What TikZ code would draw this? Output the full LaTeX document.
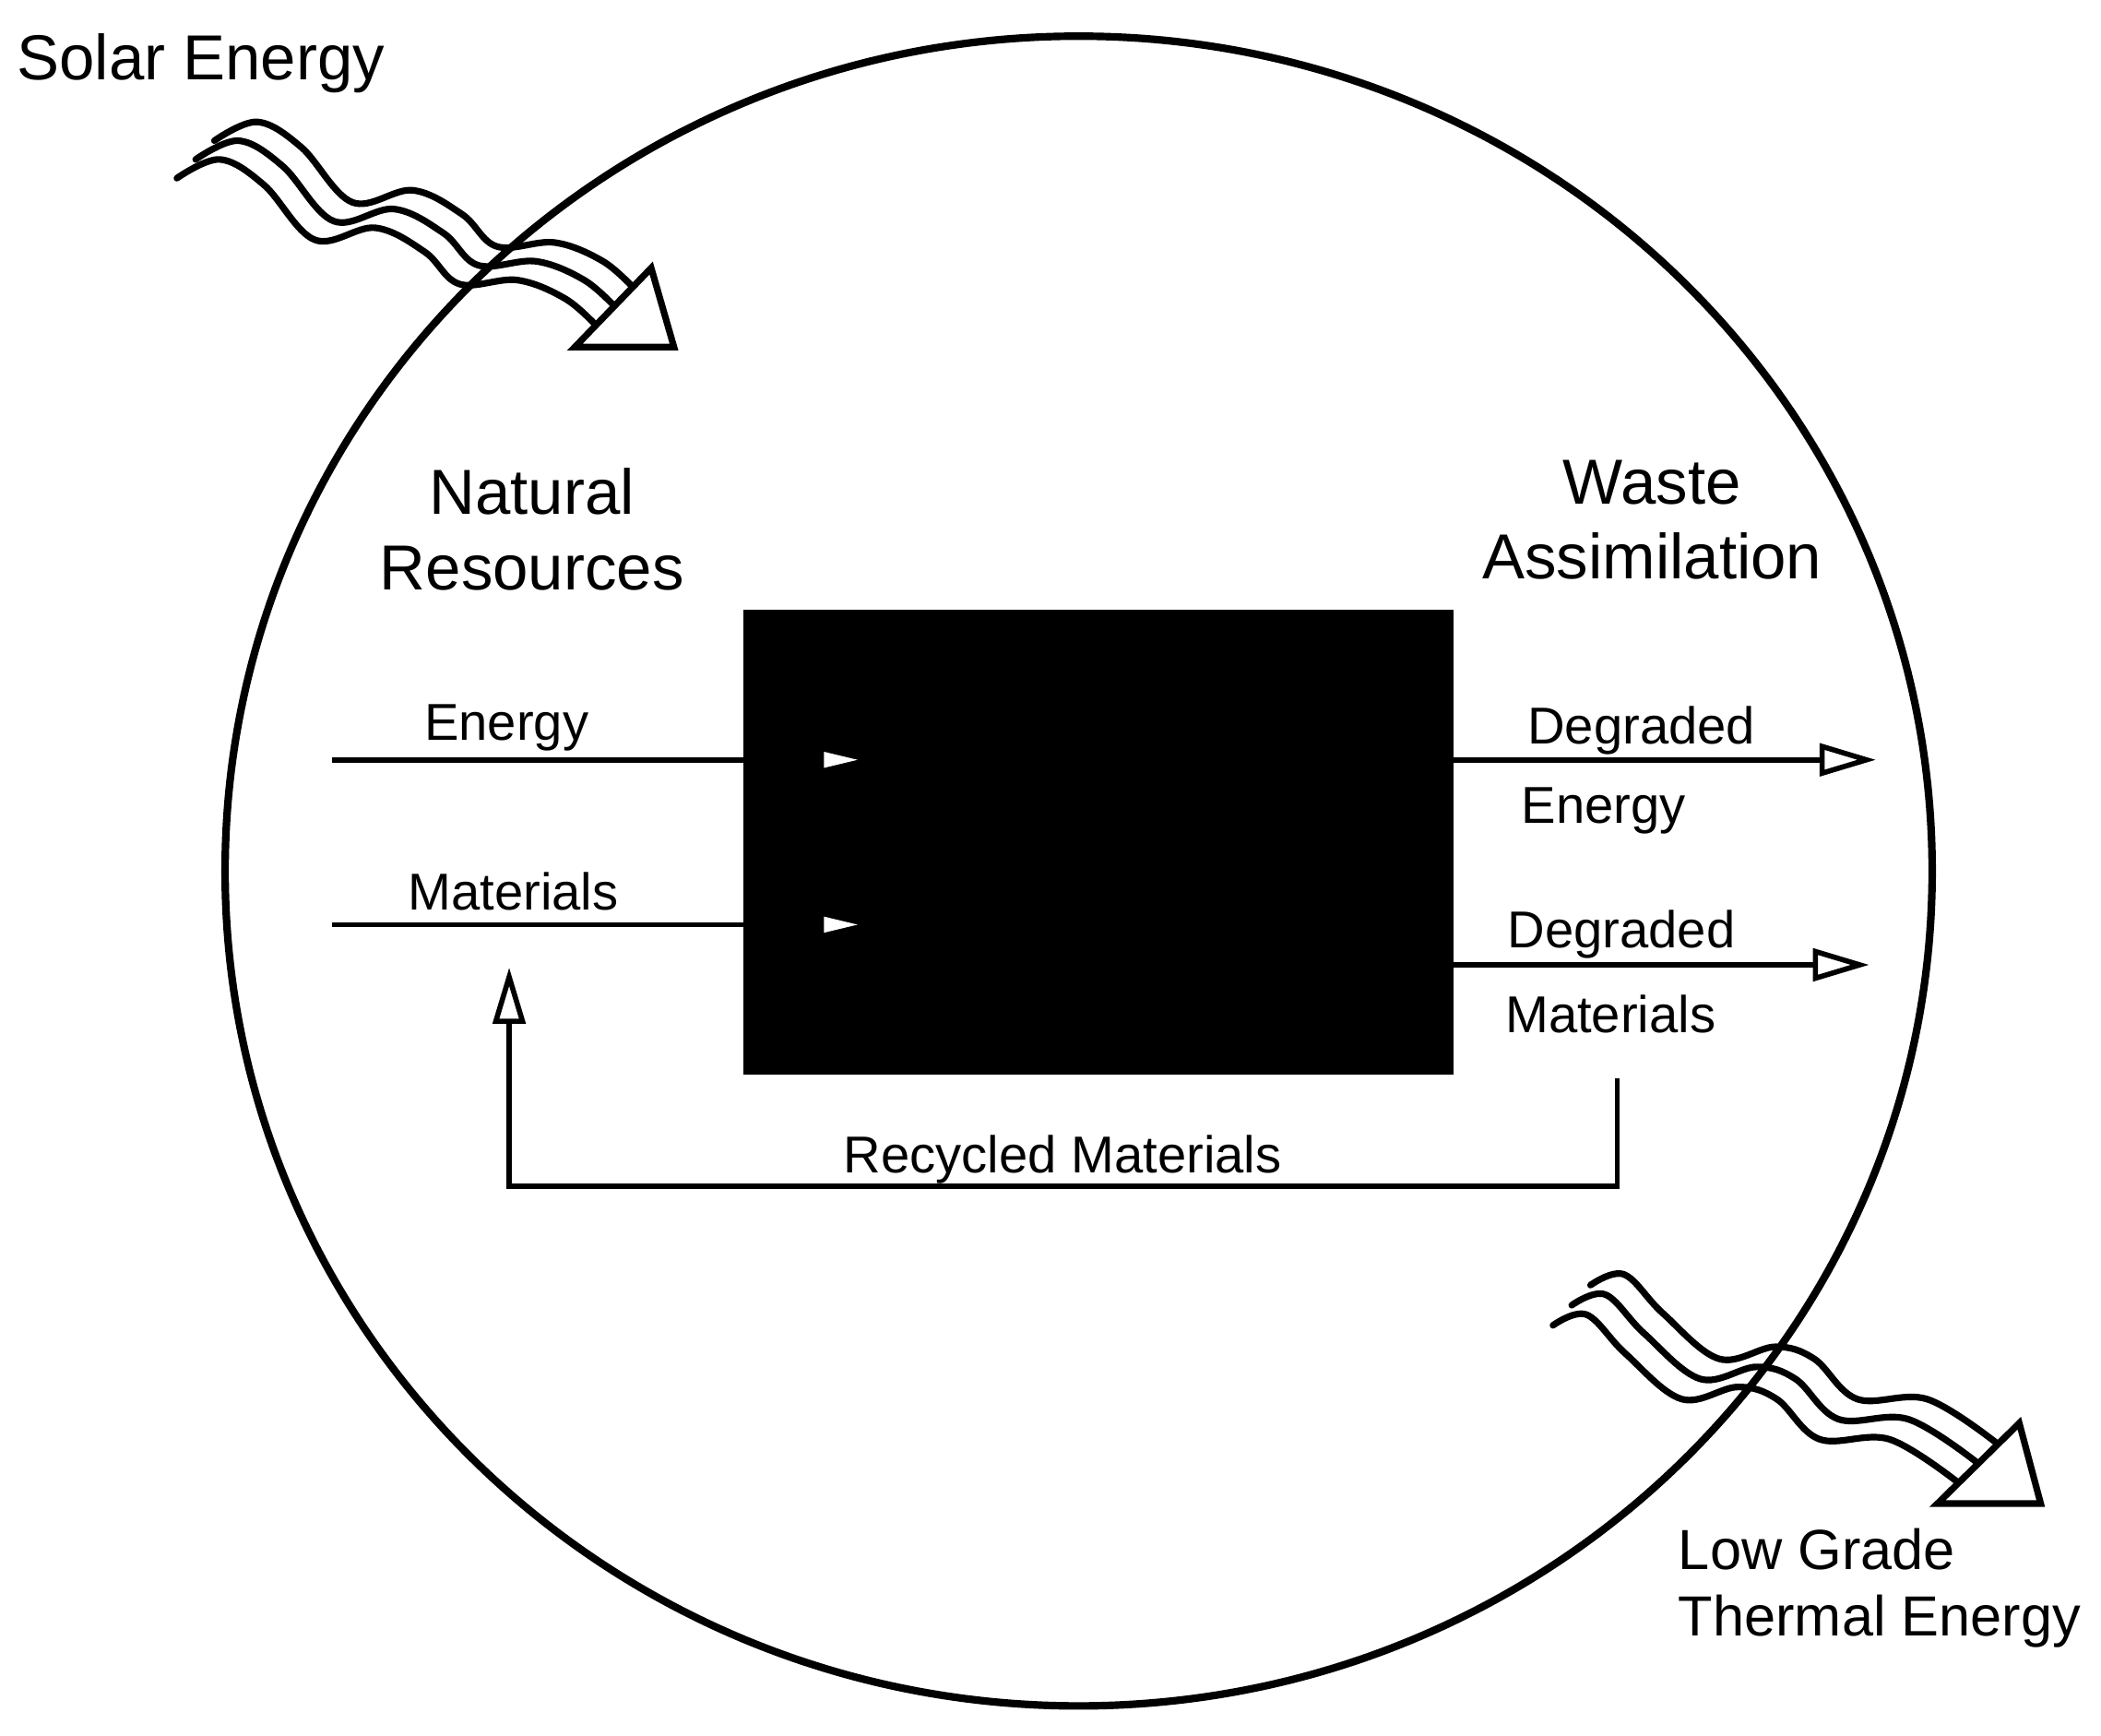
\documentclass[tikz,border=0pt]{standalone}
\usepackage{fontspec}
\setmainfont{Liberation Sans}
\usetikzlibrary{arrows.meta}
\begin{document}
\begin{tikzpicture}[x=0.01cm,y=-0.01cm,
  lbl/.style={font=\fontsize{11}{13}\selectfont,inner sep=0pt},
  big/.style={font=\fontsize{13.5}{16}\selectfont,inner sep=0pt,align=center},
  flow/.style={line width=1.1pt},
  openhead/.style={-{Triangle[open,length=0.42cm,width=0.24cm,line width=1.1pt]}},
  wave/.style={line width=1.4pt,line cap=round}]
\useasboundingbox (0,0) rectangle (1568,1295);
% big circle
\draw[line width=1.6pt] (805,650) ellipse [x radius=637, y radius=623];
% box
\node[draw,fill=black,minimum width=5.28cm,minimum height=3.45cm,anchor=north west,inner sep=0pt] (box) at (555,455) {};
\fill[white] (615,561) -- (640,567) -- (615,573) -- cycle;
\fill[white] (615,684) -- (640,690) -- (615,696) -- cycle;
% inputs
\coordinate (ein) at (248,567);
\coordinate (min) at (248,690);
\draw[flow] (ein) -- (555,567);
\draw[flow] (min) -- (555,690);
\node[lbl] (energy) at (378,543) {Energy};
\node[lbl] (materials) at (383,665) {Materials};
% outputs
\coordinate (deout) at (1400,567);
\coordinate (dmout) at (1395,720);
\draw[flow,openhead] (1083,567) -- (deout);
\draw[flow,openhead] (1083,720) -- (dmout);
\node[lbl] (deg1) at (1225,545) {Degraded};
\node[lbl] (deg2) at (1197,605) {Energy};
\node[lbl] (deg3) at (1210,697) {Degraded};
\node[lbl] (deg4) at (1202,757) {Materials};
% recycle
\coordinate (r1) at (1207,805);
\coordinate (r2) at (380,722);
\draw[flow,openhead] (r1) -- (1207,885) -- (380,885) -- (r2);
\node[lbl] (rec) at (793,865) {Recycled Materials};
% big labels
\node[big] (nat) at (397,395) {Natural\\Resources};
\node[big] (waste) at (1233,388) {Waste\\Assimilation};
\node[big,anchor=west] (solar) at (12,47) {Solar Energy};
\node[lbl,font=\fontsize{12}{14}\selectfont,align=left,anchor=north west] (low) at (1252,1140) {Low Grade\\Thermal Energy};
% solar wave
\foreach \s in {0,0.5,1}{
\draw[wave,shift={(-28*\s,28*\s)}] plot[smooth,tension=0.6] coordinates {(160,105) (192,91) (225,110) (263,151) (308,142) (345,160) (371,184) (414,181) (450,195) (474,216)};
}
\draw[line width=1.4pt,fill=white,line join=miter] (429,259) -- (503,259) -- (486,200) -- cycle;
% low grade wave
\foreach \s in {0,0.5,1}{
\draw[wave,shift={(-28*\s,30*\s)}] plot[smooth,tension=0.6] coordinates {(1187,959) (1212,951) (1241,980) (1283,1014) (1325,1005) (1354,1014) (1386,1044) (1438,1044) (1489,1076)};
}
\draw[line width=1.4pt,fill=white,line join=miter] (1446,1122) -- (1523,1122) -- (1507,1062) -- cycle;
\end{tikzpicture}
\end{document}
